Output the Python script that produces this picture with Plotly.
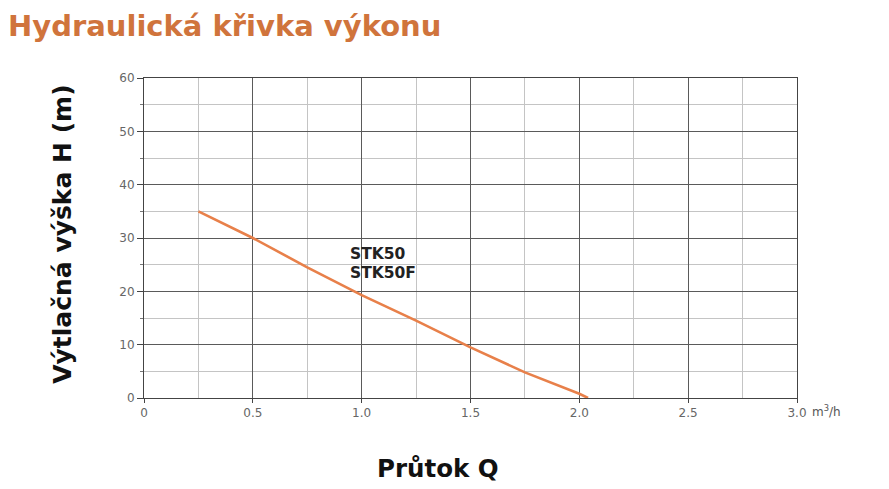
import plotly.graph_objects as go

# křivka čerpadla STK50 / STK50F
prutok = [0.25, 0.5, 0.75, 1.0, 1.25, 1.5, 1.75, 2.0, 2.04]
vyska = [35, 30, 24.5, 19.3, 14.5, 9.5, 4.8, 0.8, 0]

x_ticks = [0, 0.5, 1.0, 1.5, 2.0, 2.5, 3.0]
x_labels = ["0", "0.5", "1.0", "1.5", "2.0", "2.5", "3.0"]
y_ticks = [0, 10, 20, 30, 40, 50, 60]

BOLD = "DejaVu Sans, sans-serif"

fig = go.Figure()
fig.add_trace(go.Scatter(x=prutok, y=vyska, mode="lines",
                         line=dict(color="#e8804a", width=2.6),
                         showlegend=False, hoverinfo="x+y"))

fig.add_annotation(x=0.935, y=27, text="<b>STK50</b>", showarrow=False,
                   xanchor="left", font=dict(family=BOLD, size=15.5, color="#222"))
fig.add_annotation(x=0.935, y=23.4, text="<b>STK50F</b>", showarrow=False,
                   xanchor="left", font=dict(family=BOLD, size=15.5, color="#222"))
# jednotka za poslední značkou osy
fig.add_annotation(x=3.0, y=0, text="m<sup>3</sup>/h", showarrow=False,
                   xanchor="left", yanchor="top", xshift=13, yshift=-3,
                   font=dict(size=12, color="#555"))
# popisky os
fig.add_annotation(x=0.45, y=-0.219, xref="paper", yref="paper",
                   text="<b>Průtok Q</b>", showarrow=False,
                   xanchor="center", yanchor="middle",
                   font=dict(family=BOLD, size=24.5, color="#111"))
fig.add_annotation(x=-0.124, y=0.51, xref="paper", yref="paper",
                   text="<b>Výtlačná výška H (m)</b>", showarrow=False,
                   textangle=-90, xanchor="center", yanchor="middle",
                   font=dict(family=BOLD, size=25, color="#111"))

fig.update_layout(
    width=889, height=489,
    margin=dict(l=136, r=100, t=70, b=99),
    paper_bgcolor="white", plot_bgcolor="white",
    font=dict(family="DejaVu Sans, sans-serif"),
    title=dict(text="<b>Hydraulická křivka výkonu</b>", x=0.0, xanchor="left",
               y=0.963, yanchor="middle",
               font=dict(family=BOLD, size=29, color="#d0743c")),
    xaxis=dict(range=[0, 3.0], tickvals=x_ticks, ticktext=x_labels,
               showgrid=True, gridcolor="#5a5a5a", gridwidth=1,
               minor=dict(dtick=0.25, showgrid=True, gridcolor="#c4c4c4", gridwidth=1),
               showline=True, linecolor="#444", linewidth=1, mirror=True,
               ticks="outside", ticklen=4, tickcolor="#444",
               tickfont=dict(size=12, color="#666"), zeroline=False),
    yaxis=dict(range=[0, 60], tickvals=y_ticks,
               showgrid=True, gridcolor="#5a5a5a", gridwidth=1,
               minor=dict(dtick=5, showgrid=True, gridcolor="#c4c4c4", gridwidth=1,
                          ticks="outside", ticklen=3, tickcolor="#777"),
               showline=True, linecolor="#444", linewidth=1, mirror=True,
               ticks="outside", ticklen=6, tickcolor="#444",
               tickfont=dict(size=12, color="#666"), zeroline=False),
)

fig.write_html("out.html")
